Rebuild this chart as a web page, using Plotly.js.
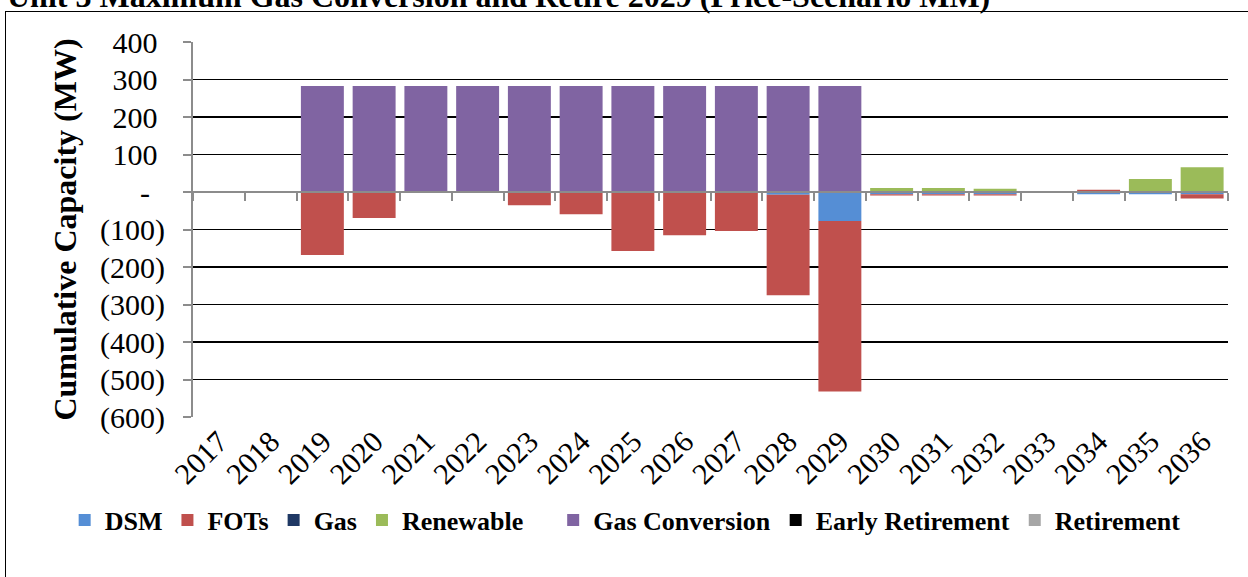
<!DOCTYPE html>
<html>
<head>
<meta charset="utf-8">
<script src="https://cdn.plot.ly/plotly-3.0.1.min.js"></script>
<style>
html,body{margin:0;padding:0;background:#fff;overflow:hidden;}
#chart{width:1248px;height:577px;}
#frame{position:absolute;left:5px;top:11px;width:1400px;height:800px;border:1.5px solid #000;pointer-events:none;}
</style>
</head>
<body>
<div id="chart"></div>
<div id="frame"></div>
<script>
const years = ["2017","2018","2019","2020","2021","2022","2023","2024","2025","2026","2027","2028","2029","2030","2031","2032","2033","2034","2035","2036"];
const dsm          = [0,0,0,0,0,0,0,0,0,0,0,-7,-77,-6,-6,-6,-1,-6,-6,-6];
const fots         = [0,0,-168,-69,0,0,-35,-59,-157,-115,-104,-268,-455,-3,-3,-3,0,6,0,-11];
const gas          = [0,0,0,0,0,0,0,0,0,0,0,0,0,0,0,0,0,0,0,0];
const renewable    = [0,0,0,0,0,0,0,0,0,0,0,0,0,11,11,9,1,0,35,66];
const gasConv      = [0,0,283,283,283,283,283,283,283,283,283,283,283,0,0,0,0,0,0,0];
const earlyRet     = [0,0,0,0,0,0,0,0,0,0,0,0,0,0,0,0,0,0,0,0];
const retirement   = [0,0,0,0,0,0,0,0,0,0,0,0,0,0,0,0,0,0,0,0];
const yTickVals = [400,300,200,100,0,-100,-200,-300,-400,-500,-600];
const yTickText = ["400\u2008","300\u2008","200\u2008","100\u2008","-\u2008\u2008","(100)","(200)","(300)","(400)","(500)","(600)"];
const titleText = "Unit 3 Maximum Gas Conversion and Retire 2029 (Price-Scenario MM)";

const series = [
  {name:"DSM", y:dsm, color:"#558ED5", legend:"legend"},
  {name:"FOTs", y:fots, color:"#C0504D", legend:"legend"},
  {name:"Gas", y:gas, color:"#1F3864", legend:"legend"},
  {name:"Renewable", y:renewable, color:"#9BBB59", legend:"legend"},
  {name:"Gas Conversion", y:gasConv, color:"#8064A2", legend:"legend2"},
  {name:"Early Retirement", y:earlyRet, color:"#000000", legend:"legend2"},
  {name:"Retirement", y:retirement, color:"#A6A6A6", legend:"legend2"}
];
const traces = series.map(s => ({
  type:"bar", name:s.name, x:years, y:s.y, legend:s.legend,
  marker:{color:s.color, line:{width:0}},
  hoverinfo:"x+y+name"
}));
// helper trace for zero-crossing category axis
traces.push({type:"bar", x:years, y:years.map(()=>0), xaxis:"x2", yaxis:"y", showlegend:false, hoverinfo:"skip", marker:{color:"rgba(0,0,0,0)"}});

const F = "Liberation Serif, Times New Roman, serif";
const legendFont = {family:F, size:26, weight:"bold", color:"#000"};
const layout = {
  width:1248, height:577,
  margin:{l:193, r:20, t:42, b:160, autoexpand:false},
  paper_bgcolor:"#fff", plot_bgcolor:"#fff",
  barmode:"relative", bargap:0.17,
  font:{family:F, color:"#000", size:30},
  annotations:[{text:"<b>"+titleText+"</b>", xref:"paper", yref:"paper", x:-0.1816, xanchor:"left", y:1.122, yanchor:"middle", showarrow:false, font:{family:F, size:32, color:"#000"}}],
  xaxis:{type:"category", categoryorder:"array", categoryarray:years, showgrid:false, zeroline:false, showline:false, ticks:"", tickangle:-45, tickfont:{family:F, size:30}},
  xaxis2:{type:"category", matches:"x", overlaying:"x", anchor:"free", position:0.6, showgrid:false, zeroline:false, showline:true, linecolor:"#8c8c8c", linewidth:2, ticks:"outside", tickson:"boundaries", ticklen:8, tickwidth:2, tickcolor:"#8c8c8c", showticklabels:false, layer:"above traces"},
  yaxis:{range:[-600,400], tickvals:yTickVals, ticktext:yTickText, showgrid:true, gridcolor:"#000", gridwidth:1.5, zeroline:false, showline:true, linecolor:"#8c8c8c", linewidth:2, ticks:"outside", ticklen:8, tickwidth:2, tickcolor:"#8c8c8c", ticklabelstandoff:12, tickfont:{family:F, size:30},
         title:{text:"<b>Cumulative Capacity (MW)</b>", font:{family:F, size:32}, standoff:14}},
  legend:{orientation:"h", x:-0.124, xanchor:"left", y:-0.275, yanchor:"middle", font:legendFont, traceorder:"normal", itemwidth:30, bgcolor:"rgba(0,0,0,0)"},
  legend2:{orientation:"h", x:0.348, xanchor:"left", y:-0.275, yanchor:"middle", font:legendFont, traceorder:"normal", itemwidth:30, bgcolor:"rgba(0,0,0,0)"},
  showlegend:true
};
Plotly.newPlot("chart", traces, layout, {displayModeBar:false, staticPlot:true});
</script>
</body>
</html>
